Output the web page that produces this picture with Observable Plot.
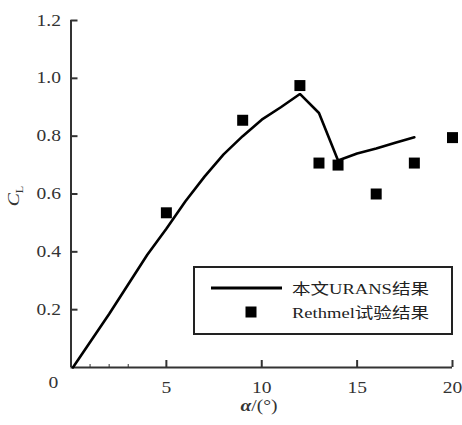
<!DOCTYPE html>
<html>
<head>
<meta charset="utf-8">
<script src="https://cdn.jsdelivr.net/npm/d3@7"></script>
<script src="https://cdn.jsdelivr.net/npm/@observablehq/plot@0.6"></script>
<style>
  html, body { margin: 0; padding: 0; background: #fff; }
  svg text { font-family: "Liberation Serif", "Noto Sans CJK SC", serif !important; }
</style>
</head>
<body>
<div id="chart"></div>
<script>
// URANS lift-coefficient curve (angle of attack in degrees, C_L)
const simAlpha = [0.1, 2, 4, 5, 6, 7, 8, 9, 10, 11, 12, 13, 14, 15, 16, 17, 18];
const simCL    = [0, 0.185, 0.39, 0.48, 0.575, 0.66, 0.737, 0.80, 0.857, 0.90, 0.946, 0.88, 0.716, 0.74, 0.757, 0.777, 0.796];

// Rethmel wind-tunnel measurements
const expAlpha = [5, 9, 12, 13, 14, 16, 18, 20];
const expCL    = [0.535, 0.855, 0.975, 0.707, 0.70, 0.60, 0.707, 0.795];

// Axis ticks
const xTicks = [5, 10, 15, 20];
const xMinorTicks = [1, 2, 3];
const yTicks = [0.2, 0.4, 0.6, 0.8, 1.0, 1.2];

// Legend entries
const legendLine = "本文URANS结果";
const legendDots = "Rethmel试验结果";

const sim = simAlpha.map((a, i) => ({alpha: a, cl: simCL[i]}));
const exp = expAlpha.map((a, i) => ({alpha: a, cl: expCL[i]}));

const axisColor = "#333";
const serif = "'Liberation Serif', 'Noto Sans CJK SC', serif";

const chart = Plot.plot({
  width: 462,
  height: 425,
  marginLeft: 70.5,
  marginRight: 10,
  marginTop: 20,
  marginBottom: 58,
  style: {fontSize: "16px", fontFamily: serif, color: axisColor, background: "#fff"},
  x: {domain: [0, 20], label: null},
  y: {domain: [0, 1.2], label: null},
  marks: [
    // axis lines
    Plot.ruleX([0], {stroke: axisColor, strokeWidth: 2}),
    Plot.ruleY([0], {stroke: axisColor, strokeWidth: 2}),
    // inward ticks and labels
    Plot.axisY({ticks: yTicks, tickSize: -7, tickPadding: 17, strokeWidth: 2, tickFormat: d3.format(".1f"), label: null}),
    Plot.axisX({ticks: xTicks, tickSize: -7, tickPadding: 21, strokeWidth: 2, label: null}),
    Plot.axisX({ticks: xMinorTicks, tickSize: -3, strokeWidth: 1, tickFormat: () => "", label: null}),
    Plot.axisX({ticks: [0], tickSize: 0, tickPadding: 9, dx: -17.5, label: null}),
    // simulation curve
    Plot.line(sim, {x: "alpha", y: "cl", stroke: "#000", strokeWidth: 2.6, strokeLinejoin: "miter"}),
    // measurements
    Plot.dot(exp, {x: "alpha", y: "cl", symbol: "square", r: 6.2, fill: "#000", stroke: null})
  ]
});

document.getElementById("chart").append(chart);

const svg = d3.select(chart);

// axis titles
const xTitle = svg.append("text")
  .attr("x", 259).attr("y", 411)
  .attr("text-anchor", "middle")
  .attr("fill", axisColor)
  .style("font-size", "16px");
xTitle.append("tspan").text("α").style("font-weight", "bold").style("font-style", "italic");
xTitle.append("tspan").text("/(°)");

const yTitle = svg.append("text")
  .attr("transform", "translate(19,196) rotate(-90)")
  .attr("text-anchor", "middle")
  .attr("fill", axisColor)
  .style("font-size", "16px");
yTitle.append("tspan").text("C").style("font-style", "italic");
yTitle.append("tspan").text("L").attr("dy", 4).style("font-size", "10px");

// legend
const lg = svg.append("g");
lg.append("rect")
  .attr("x", 194).attr("y", 267).attr("width", 258).attr("height", 67)
  .attr("fill", "#fff").attr("stroke", "#222").attr("stroke-width", 2);
lg.append("line")
  .attr("x1", 211).attr("x2", 282).attr("y1", 288).attr("y2", 288)
  .attr("stroke", "#000").attr("stroke-width", 3);
lg.append("rect")
  .attr("x", 245.5).attr("y", 306.5).attr("width", 11).attr("height", 11)
  .attr("fill", "#000");
lg.append("text").attr("class", "lgtext")
  .attr("x", 292).attr("y", 293.5).attr("fill", "#222")
  .attr("text-anchor", "start")
  .style("font-size", "15px").text(legendLine);
lg.append("text").attr("class", "lgtext")
  .attr("x", 292).attr("y", 318).attr("fill", "#222")
  .attr("text-anchor", "start")
  .style("font-size", "15px").text(legendDots);

// widen the type horizontally, as in the printed figure
svg.selectAll("text").each(function() {
  const w = this.getComputedTextLength();
  if (w > 0) {
    this.setAttribute("textLength", (this.classList.contains("lgtext") ? 137 : w * 1.22).toFixed(1));
    this.setAttribute("lengthAdjust", "spacingAndGlyphs");
  }
});
</script>
</body>
</html>
